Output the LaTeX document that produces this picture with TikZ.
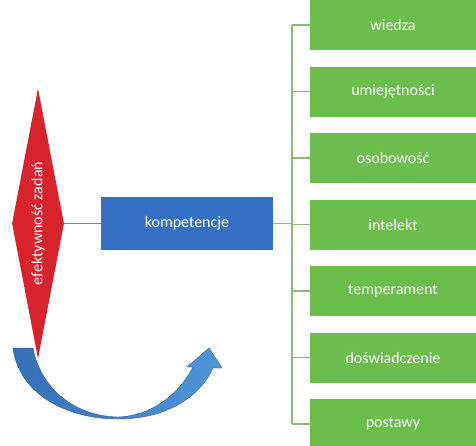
\documentclass[tikz,border=0pt]{standalone}
\usepackage{fontspec}
\setmainfont{Carlito}
\usetikzlibrary{positioning,shapes.geometric}

\definecolor{diared}{HTML}{D8222C}
\definecolor{kompblue}{HTML}{3571C3}
\definecolor{boxgreen}{HTML}{6BBD4C}
\definecolor{linegreen}{HTML}{8CB878}
\definecolor{lineblue}{HTML}{5B8BCB}
\definecolor{arrowdark}{HTML}{3470B6}
\definecolor{arrowlight}{HTML}{4F95DA}
\definecolor{arrowedge}{HTML}{2E5F96}

\begin{document}
\begin{tikzpicture}[
  x=1pt, y=-1pt,
  label/.style={text=white, font=\fontsize{16}{18}\selectfont},
  greenbox/.style={label, rectangle, fill=boxgreen, minimum width=166pt, minimum height=50pt, inner sep=0pt},
  bluebox/.style={label, rectangle, fill=kompblue, minimum width=172pt, minimum height=53pt, inner sep=0pt},
  redshape/.style={label, diamond, fill=diared, rotate=90, aspect=5.2, minimum width=270pt, minimum height=52pt, inner sep=0pt},
  link/.style={draw=linegreen, line width=1.2pt},
  blueline/.style={draw=lineblue, line width=1.2pt}
]
\useasboundingbox (0,0) rectangle (476,445);

% Draw curved arrow below the diamond
\shade[left color=arrowdark, right color=arrowlight, draw=arrowedge, line width=0.4pt]
  (13,348) .. controls (19,395) and (68,419) .. (118,419)
  .. controls (168,419) and (200,396) .. (213,368)
  -- (222,368) -- (209,348) -- (187,367) -- (193,367)
  .. controls (178,396) and (150,416) .. (118,417)
  .. controls (72,416) and (40,386) .. (33,348) -- cycle;

% Draw diamond and central box
\node[redshape] (efekt) at (38,223.5) {efektywność zadań};
\node[bluebox] (komp) at (187,223.5) {kompetencje};
\draw[blueline] (efekt) -- (komp);

% Draw green boxes
\node[greenbox] (wiedza) at (393,25) {wiedza};
\node[greenbox] (umiej) at (393,91.5) {umiejętności};
\node[greenbox] (osob) at (393,158) {osobowość};
\node[greenbox] (intel) at (393,224.5) {intelekt};
\node[greenbox] (temp) at (393,291) {temperament};
\node[greenbox] (dosw) at (393,357.5) {doświadczenie};
\node[greenbox] (post) at (393,424) {postawy};

% Draw tree connectors
\coordinate (trunk) at (292,223.5);
\draw[link] (komp.east) -- (trunk);
\draw[link] (wiedza.west -| trunk) -- (post.west -| trunk);
\foreach \b in {wiedza,umiej,osob,intel,temp,dosw,post}
  \draw[link] (\b.west -| trunk) -- (\b.west);

\end{tikzpicture}
\end{document}
